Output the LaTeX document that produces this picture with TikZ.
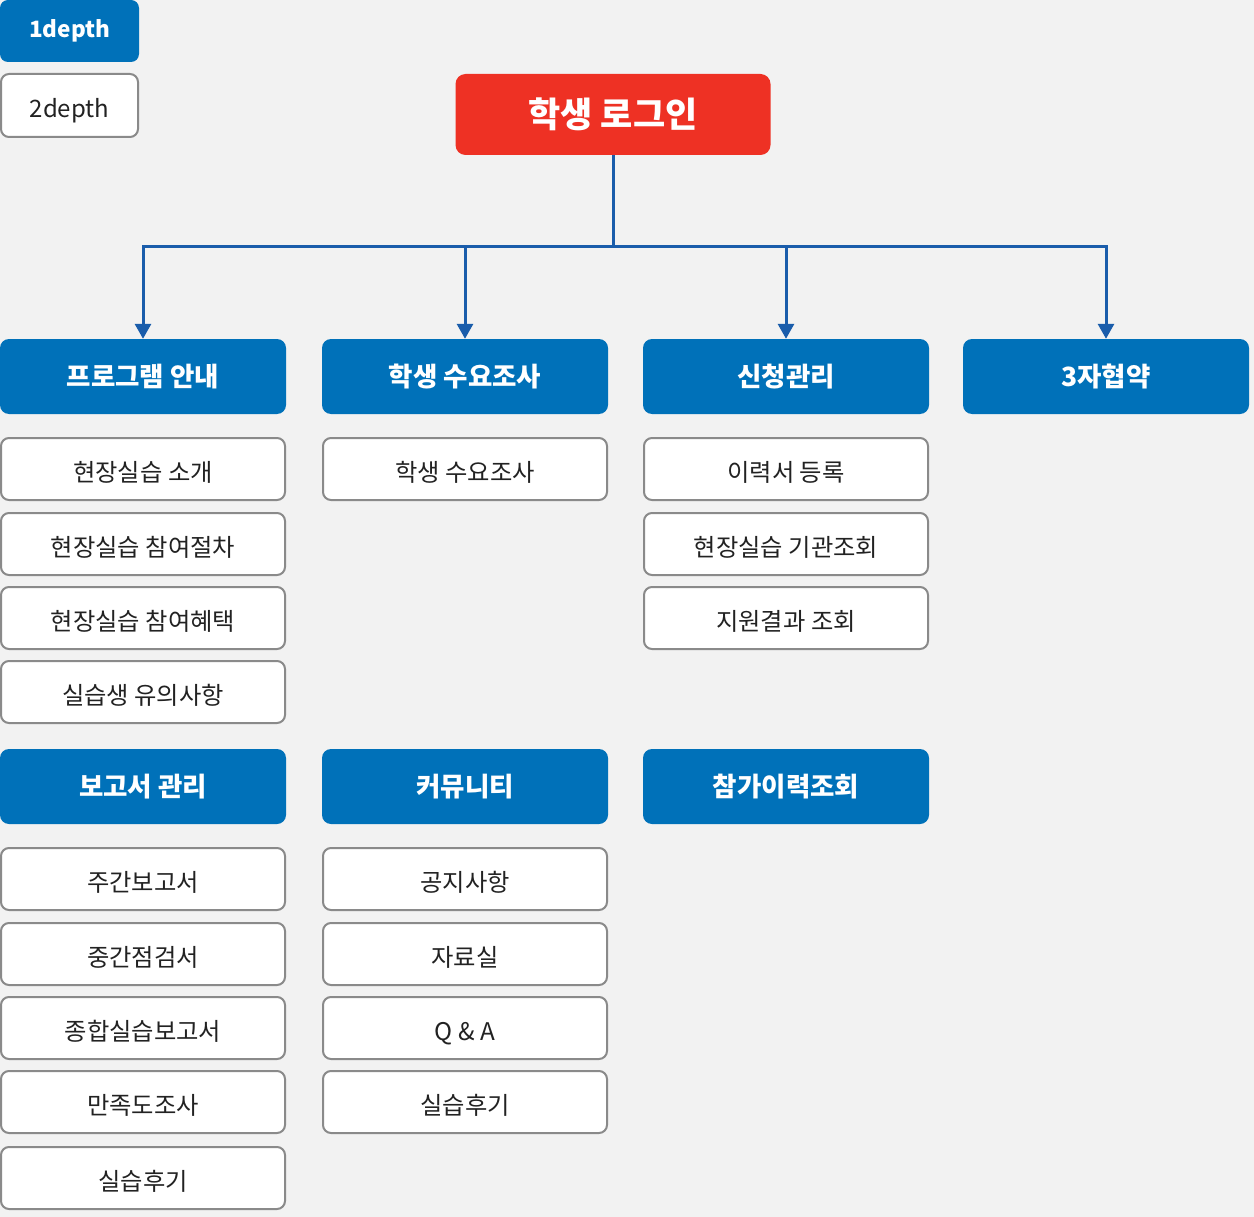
\documentclass[tikz,border=0pt]{standalone}
\usepackage{fontspec}
\setmainfont{Noto Sans CJK KR}
\usetikzlibrary{arrows.meta}
\definecolor{bg}{HTML}{F2F2F2}
\definecolor{hblue}{HTML}{0071B9}
\definecolor{lblue}{HTML}{1A5DAB}
\definecolor{rred}{HTML}{EE3124}
\definecolor{gborder}{HTML}{8A8A8A}
\definecolor{itxt}{HTML}{222222}
\begin{document}
\begin{tikzpicture}[x=1pt,y=1pt,
  hdr/.style={fill=hblue, rounded corners=9pt, minimum width=286pt, minimum height=75pt, text=white, font=\bfseries\fontsize{26.5}{30}\selectfont, inner sep=0pt},
  item/.style={draw=gborder, line width=2pt, fill=white, rounded corners=8pt, minimum width=284pt, minimum height=62pt, text=itxt, font=\fontsize{24.3}{28}\selectfont, inner sep=0pt, text height=24pt, text depth=0pt},
  conn/.style={draw=lblue, line width=3pt, -{Triangle[width=16pt,length=15pt]}}]
\fill[bg] (0,0) rectangle (1254,-1217);
\useasboundingbox (0,0) rectangle (1254,-1217);

% legend
\node[hdr, minimum width=139pt, minimum height=62pt, rounded corners=8pt, font=\bfseries\fontsize{22.5}{26}\selectfont] (leg1) at (69.5,-31) {1depth};
\node[item, minimum width=137pt, minimum height=63pt, font=\fontsize{24}{28}\selectfont] (leg2) at (69.5,-105.5) {2depth};

% root
\node[fill=rred, rounded corners=10pt, minimum width=315pt, minimum height=81pt, text=white, font=\bfseries\fontsize{35}{40}\selectfont, inner sep=0pt] (root) at (613,-114.5) {학생 로그인};

% headers row 1
\node[hdr] (h1) at (143,-376.5) {프로그램 안내};
\node[hdr] (h2) at (465,-376.5) {학생 수요조사};
\node[hdr] (h3) at (786,-376.5) {신청관리};
\node[hdr] (h4) at (1106,-376.5) {3자협약};

% connectors
\coordinate (j) at (613,-247);
\draw[conn] (root.south) -- (j) -| (h1.north);
\draw[conn] (j) -| (h2.north);
\draw[conn] (j) -| (h3.north);
\draw[conn] (j) -| (h4.north);

% items col 1
\node[item] (a1) at (143,-469) {현장실습 소개};
\node[item] (a2) at (143,-544) {현장실습 참여절차};
\node[item] (a3) at (143,-618) {현장실습 참여혜택};
\node[item] (a4) at (143,-692) {실습생 유의사항};
% col 2
\node[item] (b1) at (465,-469) {학생 수요조사};
% col 3
\node[item] (c1) at (786,-469) {이력서 등록};
\node[item] (c2) at (786,-544) {현장실습 기관조회};
\node[item] (c3) at (786,-618) {지원결과 조회};

% headers row 2
\node[hdr] (h5) at (143,-786.5) {보고서 관리};
\node[hdr] (h6) at (465,-786.5) {커뮤니티};
\node[hdr] (h7) at (786,-786.5) {참가이력조회};

\node[item] (d1) at (143,-879) {주간보고서};
\node[item] (d2) at (143,-954) {중간점검서};
\node[item] (d3) at (143,-1028) {종합실습보고서};
\node[item] (d4) at (143,-1102) {만족도조사};
\node[item] (d5) at (143,-1178) {실습후기};

\node[item] (e1) at (465,-879) {공지사항};
\node[item] (e2) at (465,-954) {자료실};
\node[item] (e3) at (465,-1028) {Q \& A};
\node[item] (e4) at (465,-1102) {실습후기};
\end{tikzpicture}
\end{document}
